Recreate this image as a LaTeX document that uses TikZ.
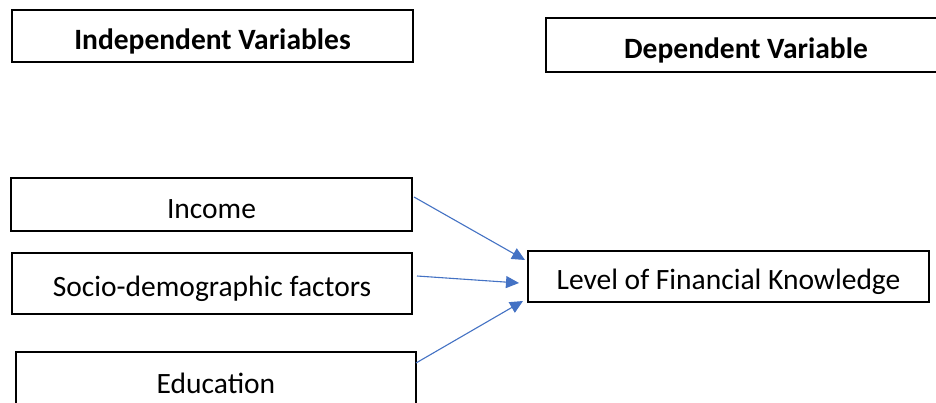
\documentclass[tikz,border=0pt]{standalone}
\usepackage{fontspec}
\setmainfont{Carlito}
\usetikzlibrary{arrows.meta}
\definecolor{arrowblue}{HTML}{4472C4}
\newcommand{\lowtext}[1]{\raisebox{0pt}[\dimexpr\height+10pt\relax][\depth]{#1}}
\begin{document}
\begin{tikzpicture}[x=1pt,y=-1pt,
  box/.style={draw=black,line width=1.8pt,inner sep=0pt,
    font=\fontsize{29.5}{34}\selectfont},
  head/.style={box,font=\fontsize{29.5}{34}\selectfont\bfseries},
  link/.style={draw=arrowblue,line width=1.1pt,
    -{Triangle[length=13pt,width=12pt]}}]
\useasboundingbox (0,0) rectangle (936,403);
\clip (0,0) rectangle (936,403);
\fill[white] (0,0) rectangle (936,403);
\node[head,minimum width=401pt,minimum height=52pt] (hiv) at (212.5,36) {\lowtext{Independent Variables}};
\node[head,minimum width=400pt,minimum height=54pt] (hdv) at (746,45) {\lowtext{Dependent Variable}};
\node[box,minimum width=401pt,minimum height=53pt] (inc) at (211.5,204.5) {\lowtext{Income}};
\node[box,minimum width=400pt,minimum height=61pt] (soc) at (212,283.5) {\lowtext{Socio-demographic factors}};
\node[box,minimum width=400pt,minimum height=52pt] (edu) at (216,378) {\lowtext{Education}};
\node[box,minimum width=401pt,minimum height=51pt] (lvl) at (728.5,276.5) {\lowtext{Level of Financial Knowledge}};
\coordinate (incout) at (414,197);
\coordinate (socout) at (417,276);
\coordinate (eduout) at (416,363);
\coordinate (incin) at (525,260);
\coordinate (socin) at (519,283);
\coordinate (eduin) at (523,301);
\draw[link] (incout) -- (incin);
\draw[link] (socout) -- (socin);
\draw[link] (eduout) -- (eduin);
\end{tikzpicture}
\end{document}
